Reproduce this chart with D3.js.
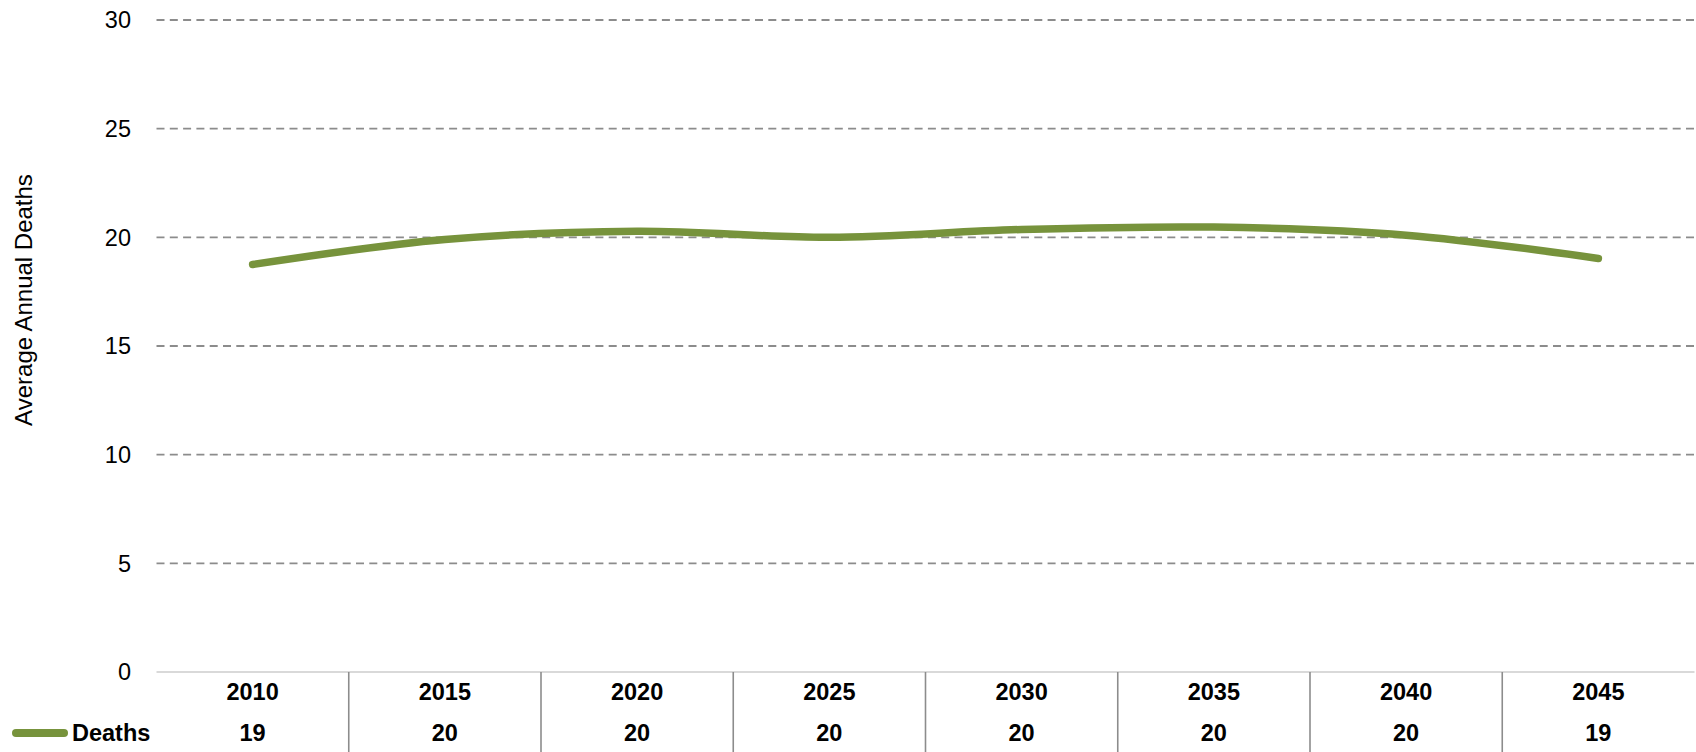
<!DOCTYPE html>
<html><head><meta charset="utf-8">
<script src="https://cdn.jsdelivr.net/npm/d3@7"></script>
<style>
html,body{margin:0;padding:0;background:#fff;}
svg{display:block;font-family:"Liberation Sans",Arial,sans-serif;}
</style></head>
<body>
<svg id="chart" width="1696" height="752"></svg>
<script>
const years = ["2010","2015","2020","2025","2030","2035","2040","2045"];
const deaths = [18.75, 19.9, 20.28, 20.0, 20.36, 20.47, 20.1, 19.03];
const deathsLabels = ["19","20","20","20","20","20","20","19"];
const yTicks = [0,5,10,15,20,25,30];
const seriesName = "Deaths";
const yTitle = "Average Annual Deaths";

(function(){
const svg = d3.select("#chart");
const pLeft = 156.5, pRight = 1694.5, pTop = 20, pBottom = 672;
const x = d3.scaleBand().domain(years).range([pLeft, pRight]);
const y = d3.scaleLinear().domain([0,30]).range([pBottom, pTop]);
const green = "#77933C";

// gridlines
svg.append("g").selectAll("line").data(yTicks.filter(d=>d>0)).join("line")
  .attr("x1", pLeft).attr("x2", pRight)
  .attr("y1", d=>y(d)).attr("y2", d=>y(d))
  .attr("stroke", "#8c8c8c").attr("stroke-width", 1.8)
  .attr("stroke-dasharray", "8,5.3");

// baseline
svg.append("line").attr("x1", pLeft).attr("x2", pRight)
  .attr("y1", y(0)).attr("y2", y(0))
  .attr("stroke", "#d9d9d9").attr("stroke-width", 2);

// y tick labels
svg.append("g").selectAll("text").data(yTicks).join("text")
  .attr("x", 131).attr("y", d=>y(d)).attr("dy", "0.35em")
  .attr("text-anchor", "end").attr("font-size", 23.5).attr("fill", "#000")
  .text(d=>d);

// y title
svg.append("text").attr("transform", "translate(24,300) rotate(-90)")
  .attr("text-anchor", "middle").attr("dy", "0.35em")
  .attr("font-size", 24).attr("fill", "#000").text(yTitle);

// table dividers
svg.append("g").selectAll("line").data(years.slice(1)).join("line")
  .attr("x1", d=>x(d)).attr("x2", d=>x(d))
  .attr("y1", pBottom).attr("y2", 752)
  .attr("stroke", "#8c8c8c").attr("stroke-width", 1.6);

// year labels
svg.append("g").selectAll("text").data(years).join("text")
  .attr("x", d=>x(d)+x.bandwidth()/2).attr("y", 691.5).attr("dy", "0.35em")
  .attr("text-anchor", "middle").attr("font-size", 23.5).attr("font-weight", "bold")
  .attr("fill", "#000").text(d=>d);

// value labels
svg.append("g").selectAll("text").data(deathsLabels).join("text")
  .attr("x", (d,i)=>x(years[i])+x.bandwidth()/2).attr("y", 733).attr("dy", "0.35em")
  .attr("text-anchor", "middle").attr("font-size", 23.5).attr("font-weight", "bold")
  .attr("fill", "#000").text(d=>d);

// legend key
svg.append("line").attr("x1", 16).attr("x2", 64).attr("y1", 733).attr("y2", 733)
  .attr("stroke", green).attr("stroke-width", 8).attr("stroke-linecap", "round");
svg.append("text").attr("x", 72).attr("y", 733).attr("dy", "0.35em")
  .attr("font-size", 23.5).attr("font-weight", "bold").attr("fill", "#000").text(seriesName);

// line
const line = d3.line()
  .x((d,i)=>x(years[i])+x.bandwidth()/2)
  .y(d=>y(d))
  .curve(d3.curveCardinal.tension(0));
svg.append("path").datum(deaths).attr("d", line)
  .attr("fill", "none").attr("stroke", green).attr("stroke-width", 7.5)
  .attr("stroke-linecap", "round").attr("stroke-linejoin", "round");
})();
</script>
</body></html>
